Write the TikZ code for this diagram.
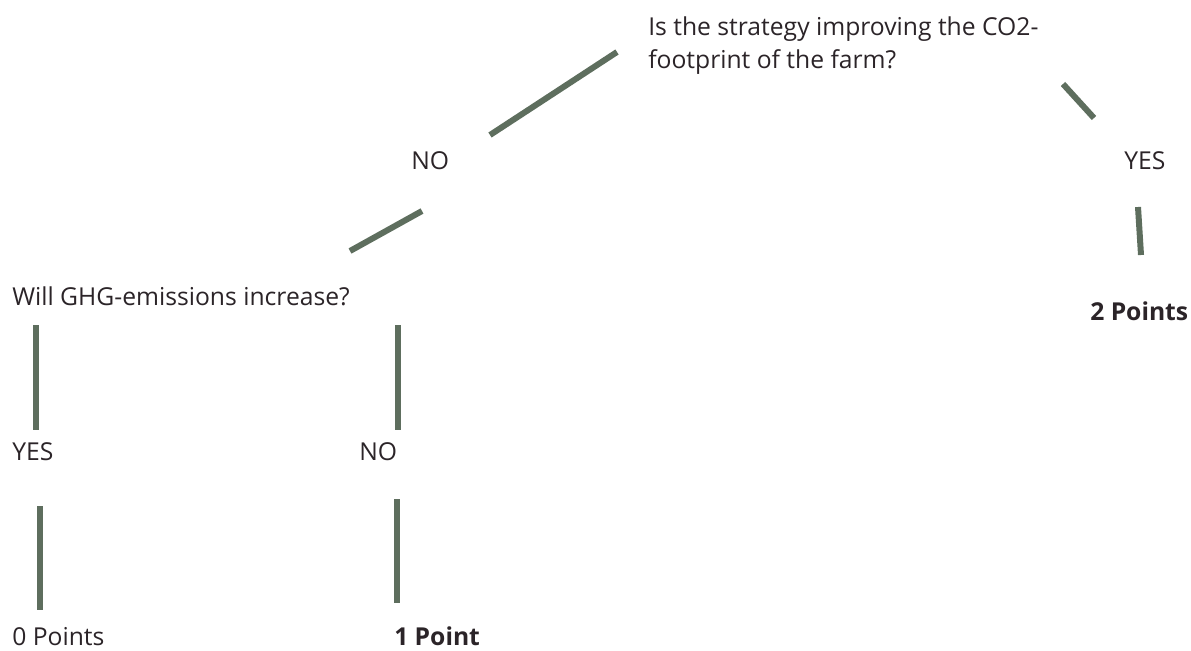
\documentclass[tikz,border=0pt]{standalone}
\usepackage{fontspec}
\setmainfont{Open Sans}
\usetikzlibrary{positioning}
\definecolor{twigcol}{HTML}{5E6E5E}
\definecolor{ink}{HTML}{2B2428}
\tikzset{
  txt/.style    = {anchor=base west, inner sep=0pt, text=ink, font=\fontsize{18.5}{24.75}\selectfont},
  points/.style = {txt, font=\fontsize{18.5}{24.75}\selectfont\bfseries},
  twig/.style   = {draw=twigcol, line width=4.5pt},
}

\begin{document}
\begin{tikzpicture}[x=0.75pt, y=-0.75pt]
  \useasboundingbox (0,0) rectangle (1191,650);
  % questions and answers
  \node[txt, name=qfoot, align=left] at (648,68) {Is the strategy improving the CO2-\\footprint of the farm?};
  \node[txt, name=nofoot]  at (411,169)  {NO};
  \node[txt, name=yesfoot] at (1124,169) {YES};
  \node[points, name=two]  at (1090,320) {2 Points};
  \node[txt, name=qghg]    at (12,305)   {Will GHG-emissions increase?};
  \node[txt, name=yesghg]  at (12,460)   {YES};
  \node[txt, name=noghg]   at (359,460)  {NO};
  \node[txt, name=zero]    at (12,645)   {0 Points};
  \node[points, name=one]  at (394,645)  {1 Point};
  % branch ends
  \foreach \n/\x/\y in {a/490/135, b/617/52, c/350/251, d/422/211,
                        e/1063/84, f/1094/118, g/1138/207, h/1141/255,
                        i/36/325, j/36/430, k/398/325, l/398/430,
                        m/40/506, n/40/610, o/397/499, p/397/603}
    \coordinate (\n) at (\x,\y);
  \foreach \s/\t in {a/b, c/d, e/f, g/h, i/j, k/l, m/n, o/p}
    \draw[twig] (\s) -- (\t);
\end{tikzpicture}
\end{document}
